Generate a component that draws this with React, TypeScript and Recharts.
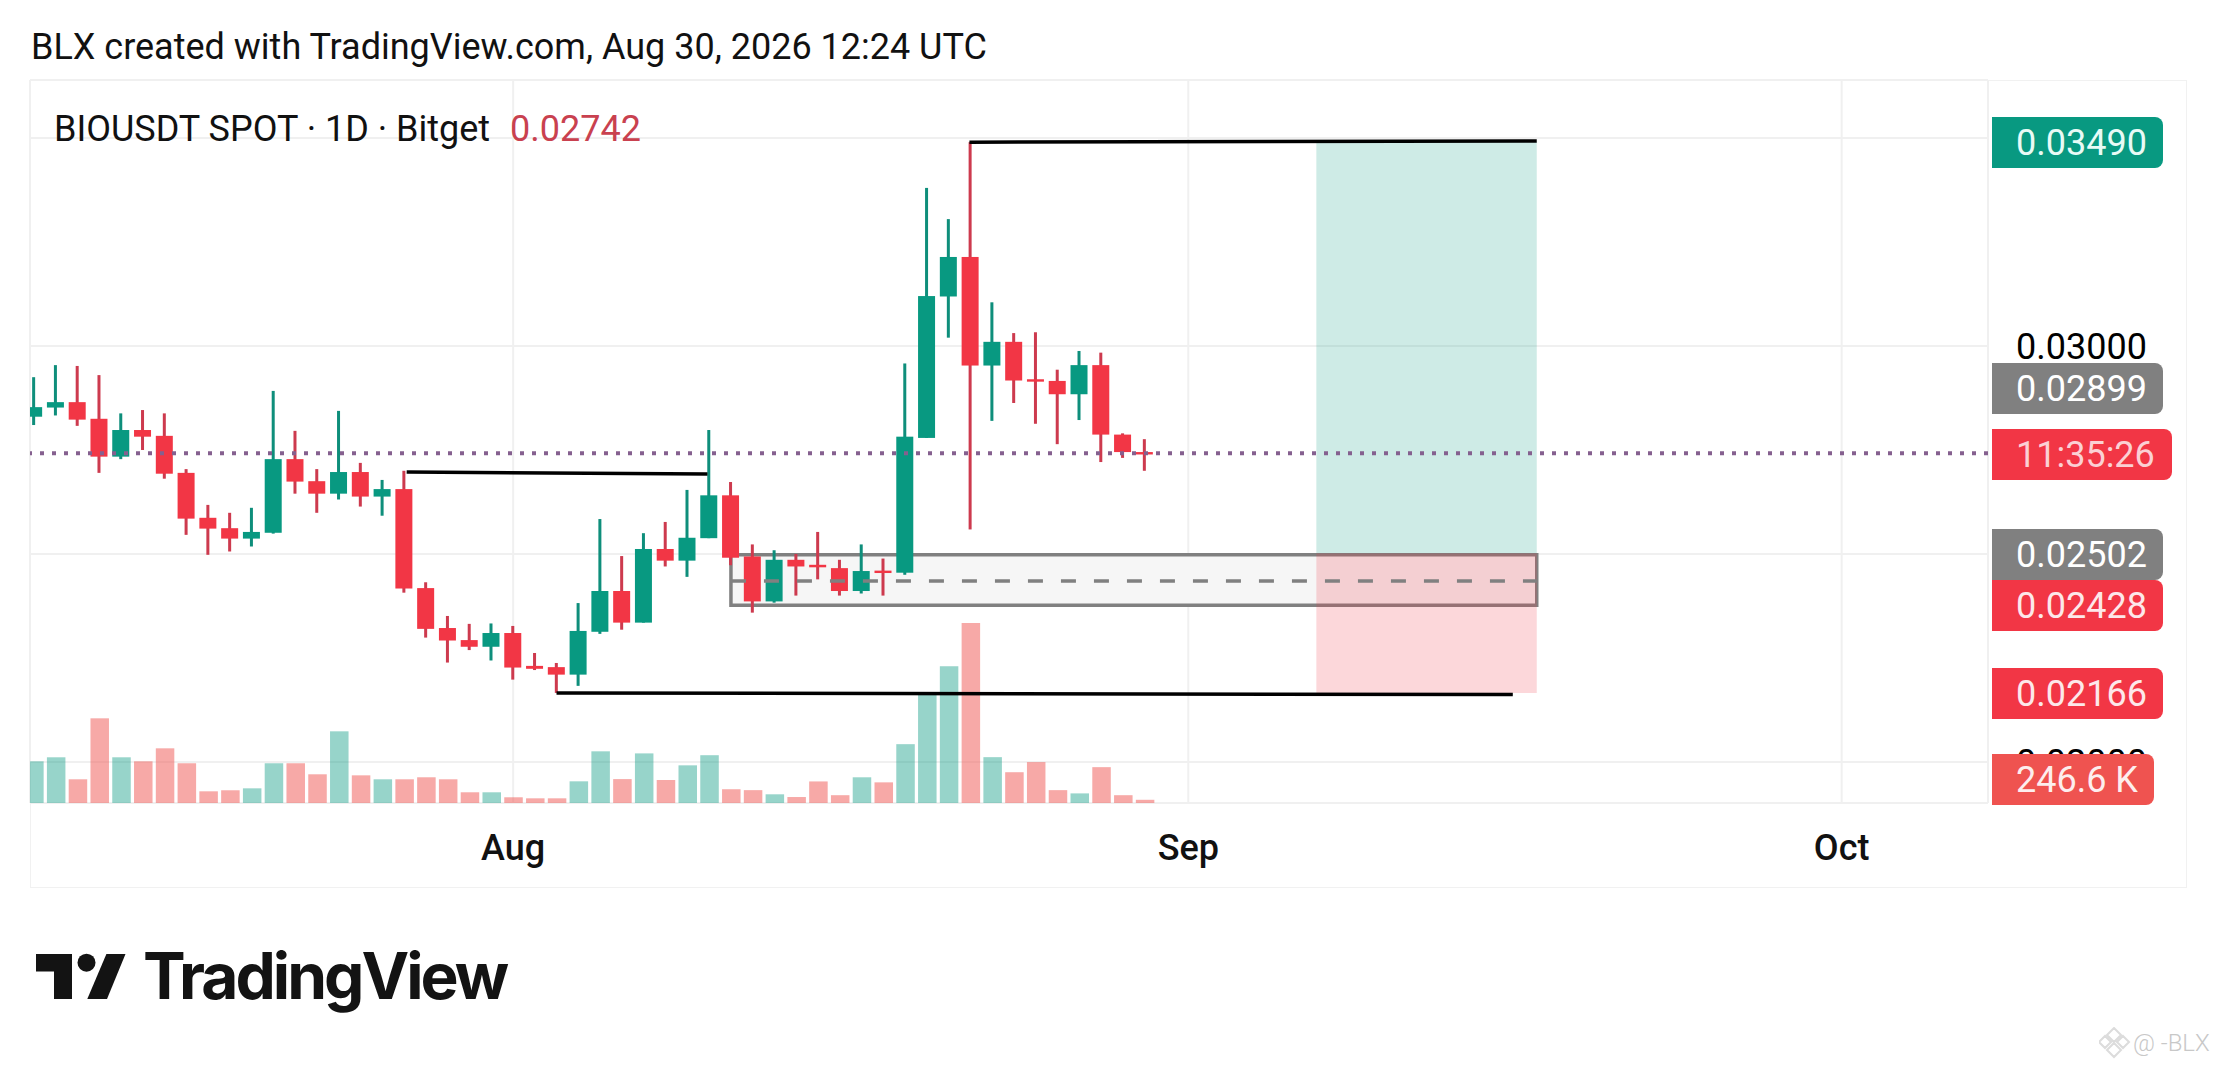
import React from "react";
import { ComposedChart, Bar, XAxis, YAxis, CartesianGrid, ReferenceLine, ReferenceArea } from "recharts";

const days = [-22,-21,-20,-19,-18,-17,-16,-15,-14,-13,-12,-11,-10,-9,-8,-7,-6,-5,-4,-3,-2,-1,0,1,2,3,4,5,6,7,8,9,10,11,12,13,14,15,16,17,18,19,20,21,22,23,24,25,26,27,28,29];
const opens = [.0283,.02852,.02865,.02825,.02734,.02798,.02784,.02695,.02587,.02562,.02537,.02551,.02728,.02675,.02645,.02697,.02638,.02656,.02418,.02322,.02293,.02277,.0231,.02231,.02228,.0221,.02313,.02411,.02335,.02512,.02484,.02538,.02641,.02494,.02386,.02486,.02474,.02466,.02411,.0246,.02455,.02779,.03119,.03214,.02953,.0301,.0292,.02916,.02884,.02954,.02787,.02745];
const highs = [.02925,.02954,.02952,.0293,.02838,.02846,.02838,.02704,.02618,.02599,.02611,.02892,.02796,.02704,.02844,.02719,.02678,.027,.02432,.02351,.02332,.02333,.02327,.02262,.02238,.02382,.02584,.02495,.0255,.02577,.02654,.02798,.02673,.02523,.02509,.025,.02553,.02486,.02523,.02489,.02958,.0338,.03305,.0349,.03105,.03031,.03033,.02943,.02988,.02984,.0279,.02776];
const lows = [.0281,.02833,.02808,.02695,.02728,.0275,.02681,.02546,.02498,.02506,.02518,.02549,.02645,.02599,.02631,.02614,.02592,.02407,.02299,.02239,.02269,.02244,.02198,.02221,.02166,.02183,.02308,.02318,.02335,.0247,.02445,.02538,.02473,.02359,.02383,.024,.02439,.024,.02405,.024,.0245,.02779,.0302,.02559,.0282,.02863,.02813,.02764,.02822,.02721,.02731,.027];
const closes = [.02853,.02865,.02823,.02734,.02798,.02782,.02693,.02585,.02561,.02537,.02553,.02728,.02674,.02645,.02697,.02638,.02656,.02417,.0232,.02292,.02277,.0231,.02227,.02224,.0221,.02315,.02411,.02335,.02512,.02484,.02539,.02641,.02491,.02386,.02486,.0247,.02468,.02411,.02459,.02455,.02782,.0312,.03214,.02953,.0301,.02917,.02915,.02884,.02954,.02787,.02745,.02742];
const volumes = [3210,3520,1825,6520,3520,3210,4210,3060,900,980,1130,3060,3060,2210,5520,2130,1825,1825,1980,1825,825,825,440,360,360,1670,3980,1840,3820,1770,2900,3680,1060,990,670,460,1660,600,1980,1590,4530,8380,10530,13860,3530,2370,3150,990,740,2760,600,246.6];
const volumeColors = ["g","g","r","r","g","r","r","r","r","r","g","g","r","r","g","r","g","r","r","r","r","g","r","r","r","g","g","r","g","r","g","g","r","r","g","r","r","r","g","r","g","g","g","r","g","r","r","r","g","r","r","r"];

const priceTicks = [0.02, 0.025, 0.03, 0.035];
const timeTicks = [0, 31, 61];
const timeLabels: Record<number, string> = { 0: "Aug", 31: "Sep", 61: "Oct" };
const lastPrice = 0.02742;

const profitZone = { x1: 36.88, x2: 47, y1: 0.02502, y2: 0.03493 };
const lossZone = { x1: 36.88, x2: 47, y1: 0.02166, y2: 0.02502 };
const entryBox = { x1: 10, x2: 47, y1: 0.02377, y2: 0.02498 };
const entryMid = 0.02435;
const trendTop = [{ x: 20.95, y: 0.0349 }, { x: 47, y: 0.03493 }];
const trendMid = [{ x: -4.89, y: 0.02697 }, { x: 8.92, y: 0.02692 }];
const trendLow = [{ x: 1.99, y: 0.02166 }, { x: 45.9, y: 0.02162 }];

const priceTags = [
  { text: "0.03490", top: 117, right: 2163, bg: "#089981", color: "#e8fbf6" },
  { text: "0.02899", top: 363, right: 2163, bg: "#808080", color: "#ffffff" },
  { text: "11:35:26", top: 429, right: 2172, bg: "#F23645", color: "#fbd0d4" },
  { text: "0.02502", top: 529, right: 2163, bg: "#808080", color: "#ffffff" },
  { text: "0.02428", top: 580, right: 2163, bg: "#F23645", color: "#fde8ea" },
  { text: "0.02166", top: 668, right: 2163, bg: "#F23645", color: "#fde8ea" },
  { text: "246.6 K", top: 754, right: 2154, bg: "#EF5350", color: "#fdeeee" },
];

const data = days.map((day, i) => ({
  day,
  open: opens[i],
  high: highs[i],
  low: lows[i],
  close: closes[i],
  range: [lows[i], highs[i]],
  volume: volumes[i],
  up: volumeColors[i] === "g",
}));

const FONT = "Roboto, sans-serif";

const Candle = (props: any) => {
  const { x, y, width, height, payload } = props;
  if (!payload || !height) return null;
  const { open, close, high, low } = payload;
  const up = close >= open;
  const at = (p: number) => y + ((high - p) / (high - low)) * height;
  const top = at(Math.max(open, close));
  const bottom = at(Math.min(open, close));
  const cx = x + width / 2;
  return (
    <g>
      <rect x={cx - 1.5} y={y} width={3} height={height} fill={up ? "#0e8e7b" : "#cd3a4e"} />
      <rect x={x} y={top} width={width} height={Math.max(bottom - top, 2.4)} fill={up ? "#089981" : "#F23645"} />
    </g>
  );
};

const VolumeBar = (props: any) => {
  const { x, y, width, height, payload } = props;
  return <rect x={x} y={y} width={width} height={height} fill={payload.up ? "rgba(8,153,129,0.42)" : "rgba(239,83,80,0.5)"} />;
};

const abs = (s: React.CSSProperties): React.CSSProperties => ({ position: "absolute", whiteSpace: "nowrap", fontFamily: FONT, ...s });

export default function App() {
  return (
    <div style={{ position: "absolute", left: 0, top: 0, width: 2217, height: 1068, background: "#fff", overflow: "hidden" }}>
      <div style={abs({ left: 30, top: 80, width: 2157, height: 808, border: "1.5px solid #f1f1f1", boxSizing: "border-box" })} />
      <ComposedChart
        width={2217}
        height={1068}
        data={data}
        margin={{ top: 80, right: 30, bottom: 181, left: 30 }}
        style={{ position: "absolute", left: 0, top: 0 }}
      >
        <CartesianGrid xAxisId="t" yAxisId="p" stroke="#f0f0f0" strokeWidth={2} />
        <XAxis
          xAxisId="t"
          dataKey="day"
          type="number"
          domain={[-22.185, 67.72]}
          allowDataOverflow
          ticks={timeTicks}
          tickFormatter={(v: number) => timeLabels[v]}
          height={84}
          axisLine={false}
          tickLine={false}
          tickSize={0}
          tickMargin={31}
          interval={0}
          tick={{ fill: "#111", fontSize: 36, fontWeight: 500, fontFamily: FONT }}
        />
        <XAxis xAxisId="v" dataKey="day" type="number" domain={[-22.185, 67.72]} allowDataOverflow hide />
        <YAxis
          yAxisId="p"
          orientation="right"
          width={199}
          type="number"
          domain={[0.019014, 0.036394]}
          allowDataOverflow
          ticks={priceTicks}
          tickFormatter={(v: number) => v.toFixed(5)}
          axisLine={false}
          tickLine={false}
          tickSize={0}
          tickMargin={28}
          interval={0}
          tick={{ fill: "#000", fontSize: 36, fontFamily: FONT, textAnchor: "start" }}
        />
        <YAxis yAxisId="vol" orientation="left" width={0} hide type="number" domain={[0, 55671]} allowDataOverflow />

        <Bar xAxisId="v" yAxisId="vol" dataKey="volume" barSize={18.5} shape={VolumeBar} isAnimationActive={false} />

        <ReferenceArea xAxisId="t" yAxisId="p" {...entryBox} fill="#f6f6f6" fillOpacity={1} stroke="#808080" strokeWidth={3.5} ifOverflow="visible" />
        <ReferenceLine
          xAxisId="t"
          yAxisId="p"
          segment={[{ x: entryBox.x1, y: entryMid }, { x: entryBox.x2, y: entryMid }]}
          stroke="#808080"
          strokeWidth={3.5}
          strokeDasharray="15 18"
        />
        <ReferenceArea xAxisId="t" yAxisId="p" {...profitZone} fill="#089981" fillOpacity={0.2} stroke="none" ifOverflow="visible" />
        <ReferenceArea xAxisId="t" yAxisId="p" {...lossZone} fill="#F23645" fillOpacity={0.2} stroke="none" ifOverflow="visible" />

        <Bar xAxisId="t" yAxisId="p" dataKey="range" barSize={17} shape={Candle} isAnimationActive={false} />

        <ReferenceLine xAxisId="t" yAxisId="p" y={lastPrice} stroke="#85608f" strokeWidth={4} strokeDasharray="4 8" />
        <ReferenceLine xAxisId="t" yAxisId="p" segment={trendTop} stroke="#000" strokeWidth={3.5} />
        <ReferenceLine xAxisId="t" yAxisId="p" segment={trendMid} stroke="#000" strokeWidth={3.5} />
        <ReferenceLine xAxisId="t" yAxisId="p" segment={trendLow} stroke="#000" strokeWidth={3.5} />
      </ComposedChart>

      <div style={abs({ left: 31, top: 26, fontSize: 36, lineHeight: "42px", color: "#111" })}>BLX created with TradingView.com, Aug 30, 2026 12:24 UTC</div>
      <div style={abs({ left: 54, top: 108, fontSize: 36, lineHeight: "42px", color: "#111" })}>BIOUSDT SPOT · 1D · Bitget</div>
      <div style={abs({ left: 510, top: 108, fontSize: 36, lineHeight: "42px", color: "#c9414f" })}>0.02742</div>

      {priceTags.map((t) => (
        <div
          key={t.text}
          style={abs({
            left: 1992,
            top: t.top,
            width: t.right - 1992,
            height: 50.5,
            lineHeight: "53px",
            background: t.bg,
            color: t.color,
            fontSize: 36,
            paddingLeft: 24,
            boxSizing: "border-box",
            borderRadius: "0 8px 8px 0",
          })}
        >
          {t.text}
        </div>
      ))}

      <svg width={140} height={60} style={{ position: "absolute", left: 0, top: 940 }}>
        <path d="M36 14 H72 V59 H54 V31.5 H36 Z" fill="#131313" />
        <circle cx={86.5} cy={22.7} r={9} fill="#131313" />
        <path d="M106.4 14 H125.5 L107 59 H87.3 Z" fill="#131313" />
      </svg>
      <div style={abs({ left: 143, top: 937, fontSize: 64, lineHeight: "78px", fontWeight: 700, fontFamily: "Inter, sans-serif", color: "#131313", letterSpacing: -3 })}>TradingView</div>

      <svg width={32} height={32} style={{ position: "absolute", left: 2099, top: 1027 }}>
        <path d="M15 1 L22 8 L15 15 L8 8 Z M6 9 L12 15 L6 21 L0 15 Z M24 9 L30 15 L24 21 L18 15 Z M15 16 L22 23 L15 30 L8 23 Z" fill="none" stroke="#dcdcdc" strokeWidth={2} />
      </svg>
      <div style={abs({ left: 2133, top: 1026, fontSize: 24, lineHeight: "34px", fontWeight: 300, color: "#c8c8c8" })}>@ -BLX</div>
    </div>
  );
}
